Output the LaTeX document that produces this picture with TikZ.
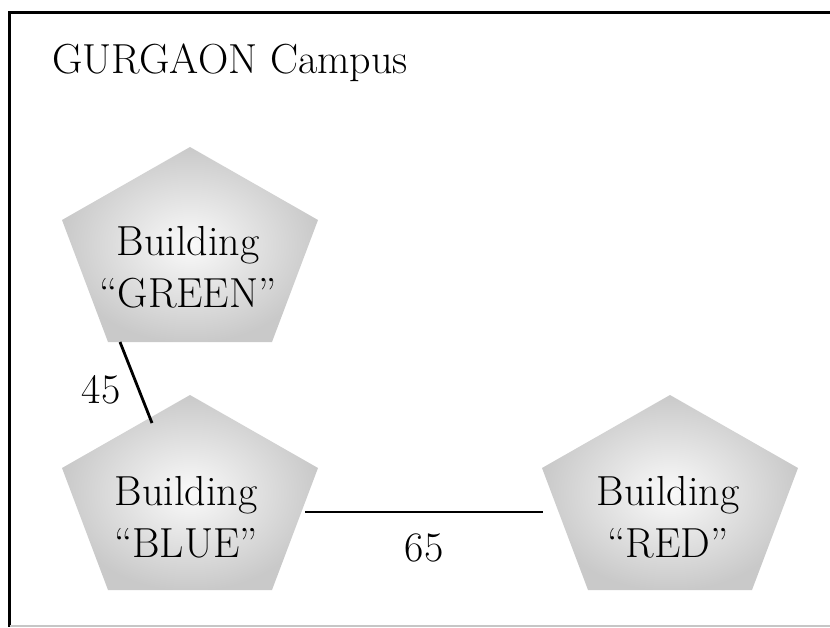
\documentclass[tikz,border=0pt]{standalone}
\tikzset{
  txt/.style={font=\fontsize{21}{26}\selectfont, inner sep=0pt, align=center},
  link/.style={line width=1.4pt, black},
  bldg/.pic={
    \shade[inner color=gray!4, outer color=gray!42]
      (0,0) -- (128,73) -- (82,195) -- (-82,195) -- (-128,73) -- cycle;
    \coordinate (-apex) at (0,0);
    \coordinate (-bl) at (-70,195);
    \coordinate (-ul) at (-38,28);
    \coordinate (-r) at (115,117);
    \coordinate (-l) at (-127,117);
  }
}
\begin{document}
\begin{tikzpicture}[x=0.5pt,y=-0.5pt]
\useasboundingbox (0,0) rectangle (830,627);
% campus frame
\draw[line width=1.5pt] (830,12) -- (9.5,12) -- (9.5,627);
\draw[gray!45, line width=1pt] (9.5,625.5) -- (830,625.5);
\node[txt, anchor=base west] (title) at (52,73) {GURGAON Campus};
% buildings
\pic (green) at (190,147) {bldg};
\pic (blue) at (190,395) {bldg};
\pic (red) at (670,395) {bldg};
\node[txt, anchor=north] (tgreen) at (188,226) {Building\\``GREEN''};
\node[txt, anchor=north] (tblue) at (186,476) {Building\\``BLUE''};
\node[txt, anchor=north] (tred) at (668,476) {Building\\``RED''};
% links
\draw[link] (green-bl) -- (blue-ul);
\draw[link] (blue-r) -- (red-l);
\node[txt] (l45) at (101,390) {45};
\node[txt] (l65) at (424,548) {65};
\end{tikzpicture}
\end{document}
